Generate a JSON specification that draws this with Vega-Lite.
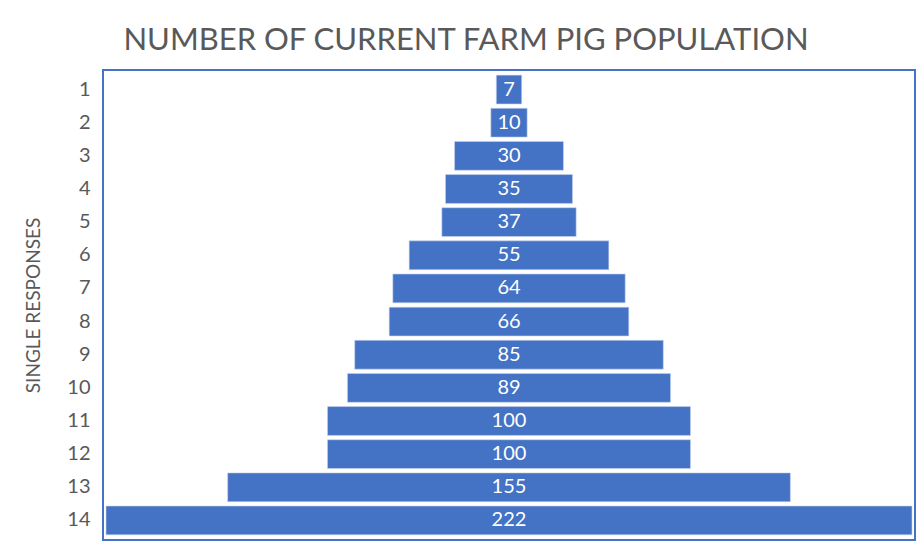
{
  "$schema": "https://vega.github.io/schema/vega-lite/v6.json",
  "autosize": {"type": "none"},
  "width": 812,
  "height": 470,
  "padding": {"left": 103, "top": 70, "right": 4, "bottom": 16},
  "background": "white",
  "title": {
    "text": "NUMBER OF CURRENT FARM PIG POPULATION",
    "font": "Lato",
    "fontSize": 31,
    "fontWeight": "normal",
    "color": "#595959",
    "anchor": "middle",
    "frame": "group",
    "dx": -43,
    "offset": -11,
    "baseline": "alphabetic"
  },
  "data": {
    "values": [
      {"row": 1, "value": 7},
      {"row": 2, "value": 10},
      {"row": 3, "value": 30},
      {"row": 4, "value": 35},
      {"row": 5, "value": 37},
      {"row": 6, "value": 55},
      {"row": 7, "value": 64},
      {"row": 8, "value": 66},
      {"row": 9, "value": 85},
      {"row": 10, "value": 89},
      {"row": 11, "value": 100},
      {"row": 12, "value": 100},
      {"row": 13, "value": 155},
      {"row": 14, "value": 222}
    ]
  },
  "encoding": {
    "y": {
      "field": "row",
      "type": "ordinal",
      "sort": "ascending",
      "scale": {"paddingInner": 0.13, "paddingOuter": 0.155},
      "axis": {
        "title": "SINGLE RESPONSES",
        "titleFont": "Lato",
        "titleFontSize": 19,
        "titleFontWeight": "normal",
        "titleColor": "#595959",
        "titleX": -60,
        "labelFont": "Lato",
        "labelFontSize": 20,
        "labelColor": "#595959",
        "labelPadding": 13,
        "ticks": false,
        "domain": false,
        "grid": false
      }
    }
  },
  "layer": [
    {
      "mark": {"type": "bar", "color": "#4472C4", "stroke": "#C9D5EC", "strokeWidth": 0.6},
      "encoding": {
        "x": {
          "field": "value",
          "type": "quantitative",
          "stack": "center",
          "scale": {"domain": [-0.83, 222.83], "nice": false, "zero": false},
          "axis": null
        }
      }
    },
    {
      "mark": {"type": "text", "color": "white", "font": "Lato", "fontSize": 20, "align": "center", "baseline": "middle"},
      "encoding": {
        "x": {"datum": 111, "type": "quantitative"},
        "text": {"field": "value", "type": "quantitative"}
      }
    }
  ],
  "config": {
    "view": {"stroke": "#4472C4", "strokeWidth": 2}
  }
}
